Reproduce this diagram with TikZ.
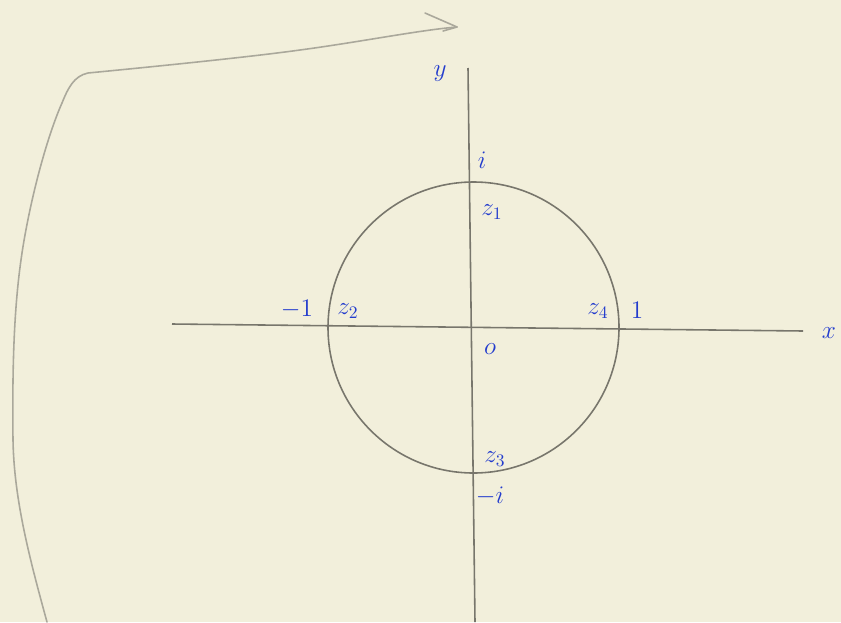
\documentclass[tikz,border=0pt]{standalone}
\usetikzlibrary{arrows.meta}
\definecolor{paper}{RGB}{242,239,219}
\definecolor{ink}{RGB}{35,60,205}
\definecolor{pencil}{RGB}{120,118,108}
\definecolor{faint}{RGB}{170,168,155}
\tikzset{
  axis/.style={draw=pencil, line width=0.9pt},
  lbl/.style={text=ink, font=\Large\itshape, inner sep=0pt},
  sketch/.style={draw=faint, line width=0.9pt, line cap=round, line join=round}
}
\begin{document}
\begin{tikzpicture}[x=0.02cm, y=-0.02cm]
\fill[paper] (0,0) rectangle (841,622);
\useasboundingbox (0,0) rectangle (841,622);
% axes
\coordinate (xl) at (172,324);
\coordinate (xr) at (803,331);
\coordinate (yt) at (468,68);
\coordinate (yb) at (475,622);
\draw[axis] (xl) -- (xr);
\draw[axis] (yt) -- (yb);
% unit circle
\coordinate (c) at (473.5,327.5);
\draw[axis] (c) circle[radius=145.5];
% sketch curve with open arrow
\coordinate (s0) at (47,622);
\coordinate (s1) at (457,27);
\draw[sketch] (s0) .. controls (30,560) and (14,500) .. (13,440)
  .. controls (12,350) and (15,290) .. (25,235)
  .. controls (35,180) and (50,130) .. (62,103)
  .. controls (68,88) and (74,76) .. (88,73)
  .. controls (150,67) and (250,57) .. (300,50)
  .. controls (360,42) and (420,30) .. (s1);
\coordinate (a1) at (425,13);
\coordinate (a2) at (443,31);
\draw[sketch] (a1) -- (s1) -- (a2);
% labels
\node[lbl] (ly) at (440,74) {$y$};
\node[lbl] (lx) at (829,333) {$x$};
\node[lbl] (li) at (482,160) {$i$};
\node[lbl] (z1) at (492,212) {$z_1$};
\node[lbl] (m1) at (297,309) {$-1$};
\node[lbl] (z2) at (348,311) {$z_2$};
\node[lbl] (z4) at (598,311) {$z_4$};
\node[lbl] (p1) at (637,310) {$1$};
\node[lbl] (lo) at (490,349) {$o$};
\node[lbl] (z3) at (495,459) {$z_3$};
\node[lbl] (mi) at (490,496) {$-i$};
\end{tikzpicture}
\end{document}
